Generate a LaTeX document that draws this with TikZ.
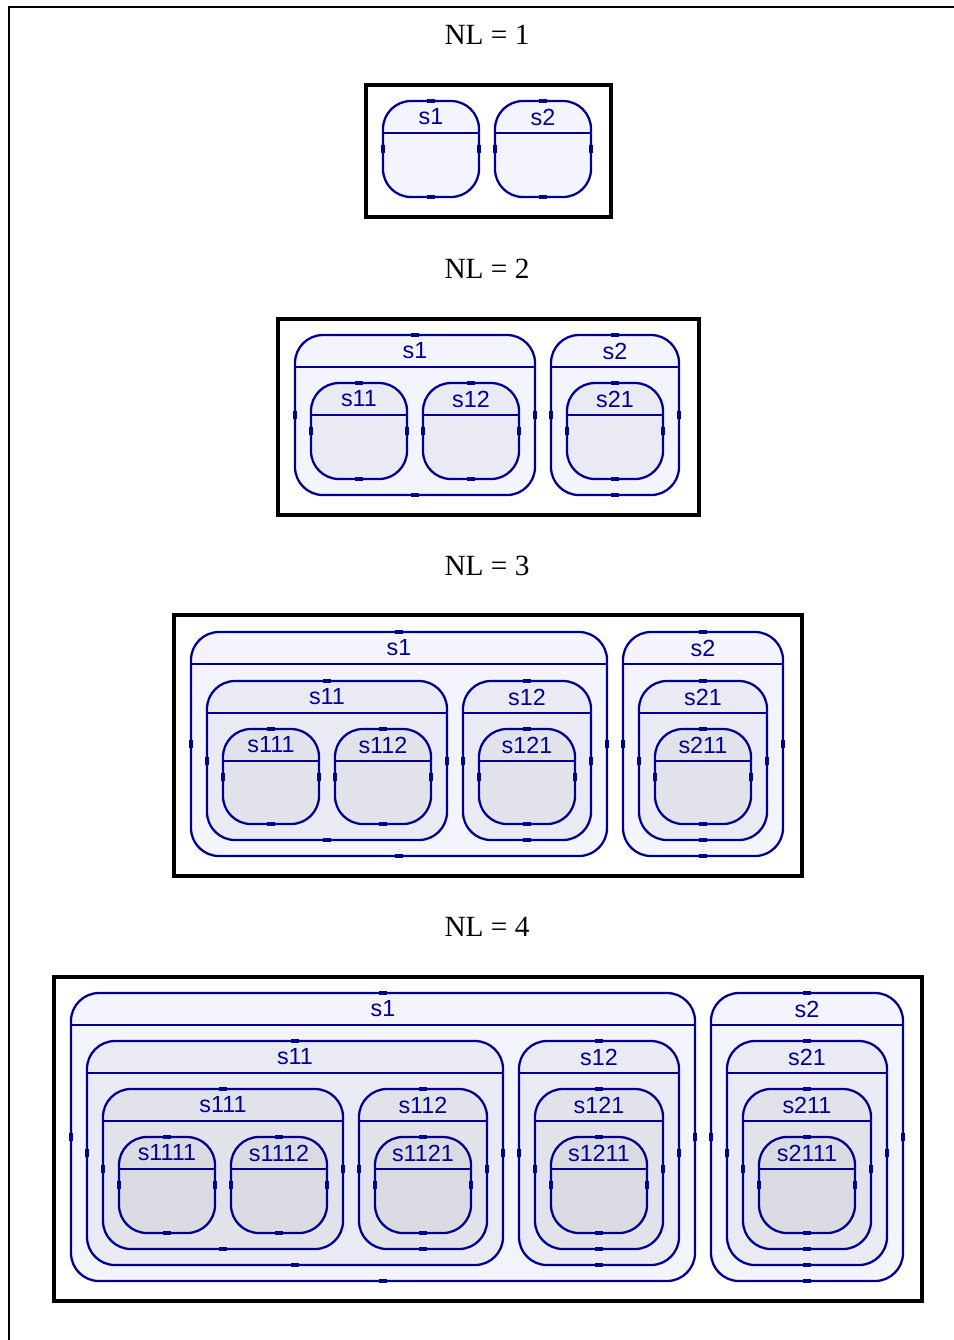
\documentclass[tikz,border=0pt]{standalone}
\usepackage{fontspec}
\setmainfont{Liberation Serif}
\newfontfamily\lsans{Liberation Sans}
\definecolor{nav}{HTML}{000090}
\definecolor{lvA}{HTML}{F4F4FE}
\definecolor{lvB}{HTML}{EAEAF4}
\definecolor{lvC}{HTML}{E2E2EB}
\definecolor{lvD}{HTML}{DADAE3}
\tikzset{
  stbox/.style={draw=nav, line width=1.7pt, rounded corners=21pt, inner sep=0pt, outer sep=0pt, rectangle},
  stline/.style={draw=nav, line width=1.6pt},
  stlabel/.style={text=nav, font=\lsans\fontsize{17.5}{19}\selectfont, inner sep=0pt},
  sttick/.style={draw=nav, line width=2.6pt},
  framebox/.style={draw=black, line width=3.4pt, inner sep=0pt, outer sep=0pt, rectangle},
  title/.style={font=\fontsize{22}{24}\selectfont, inner sep=0pt},
  border/.style={draw=black, line width=1.6pt}
}
\newcommand\stbox[7]{%
  \node[stbox, fill=#6, minimum width={(#4-#2)*0.75pt}, minimum height={(#5-#3)*0.75pt}] (#1) at ({(#2+#4)/2},{(#3+#5)/2}) {};
  \draw[stline] ([yshift=-24pt]#1.north west) -- ([yshift=-24pt]#1.north east);
  \node[stlabel] (#1l) at ([yshift=-12pt]#1.north) {#7};
  \draw[sttick] ([xshift=-3pt]#1.north) -- ([xshift=3pt]#1.north);
  \draw[sttick] ([xshift=-3pt]#1.south) -- ([xshift=3pt]#1.south);
  \draw[sttick] ([yshift=-3pt]#1.west) -- ([yshift=3pt]#1.west);
  \draw[sttick] ([yshift=-3pt]#1.east) -- ([yshift=3pt]#1.east);
}
\newcommand\frbox[5]{%
  \node[framebox, minimum width={(#4-#2)*0.75pt}, minimum height={(#5-#3)*0.75pt}] (#1) at ({(#2+#4)/2},{(#3+#5)/2}) {};
}
\begin{document}
\begin{tikzpicture}[x=0.75pt, y=-0.75pt]
\useasboundingbox (0,0) rectangle (954,1340);
% outer border
\coordinate (bl) at (9,1340);
\coordinate (tl) at (9,7);
\coordinate (tr) at (954,7);
\draw[border] (bl) -- (tl) -- (tr);

% ---------- NL = 1
\node[title] (t1) at (487,35) {NL = 1};
\frbox{f1}{366}{85}{611}{217}
\stbox{aA}{383}{101}{479}{197}{lvA}{s1}
\stbox{aB}{495}{101}{591}{197}{lvA}{s2}

% ---------- NL = 2
\node[title] (t2) at (487,269) {NL = 2};
\frbox{f2}{278}{319}{699}{515}
\stbox{bA}{295}{335}{535}{495}{lvA}{s1}
\stbox{bAA}{311}{383}{407}{479}{lvB}{s11}
\stbox{bAB}{423}{383}{519}{479}{lvB}{s12}
\stbox{bB}{551}{335}{679}{495}{lvA}{s2}
\stbox{bBA}{567}{383}{663}{479}{lvB}{s21}

% ---------- NL = 3
\node[title] (t3) at (487,566) {NL = 3};
\frbox{f3}{174}{615}{802}{876}
\stbox{cA}{191}{632}{607}{856}{lvA}{s1}
\stbox{cAA}{207}{681}{447}{840}{lvB}{s11}
\stbox{cAAA}{223}{729}{319}{824}{lvC}{s111}
\stbox{cAAB}{335}{729}{431}{824}{lvC}{s112}
\stbox{cAB}{463}{681}{591}{840}{lvB}{s12}
\stbox{cABA}{479}{729}{575}{824}{lvC}{s121}
\stbox{cB}{623}{632}{783}{856}{lvA}{s2}
\stbox{cBA}{639}{681}{767}{840}{lvB}{s21}
\stbox{cBAA}{655}{729}{751}{824}{lvC}{s211}

% ---------- NL = 4
\node[title] (t4) at (487,927) {NL = 4};
\frbox{f4}{54}{977}{922}{1301}
\stbox{dA}{71}{993}{695}{1281}{lvA}{s1}
\stbox{dAA}{87}{1041}{503}{1265}{lvB}{s11}
\stbox{dAAA}{103}{1089}{343}{1249}{lvC}{s111}
\stbox{dAAAA}{119}{1137}{215}{1233}{lvD}{s1111}
\stbox{dAAAB}{231}{1137}{327}{1233}{lvD}{s1112}
\stbox{dAAB}{359}{1089}{487}{1249}{lvC}{s112}
\stbox{dAABA}{375}{1137}{471}{1233}{lvD}{s1121}
\stbox{dAB}{519}{1041}{679}{1265}{lvB}{s12}
\stbox{dABA}{535}{1089}{663}{1249}{lvC}{s121}
\stbox{dABAA}{551}{1137}{647}{1233}{lvD}{s1211}
\stbox{dB}{711}{993}{903}{1281}{lvA}{s2}
\stbox{dBA}{727}{1041}{887}{1265}{lvB}{s21}
\stbox{dBAA}{743}{1089}{871}{1249}{lvC}{s211}
\stbox{dBAAA}{759}{1137}{855}{1233}{lvD}{s2111}
\end{tikzpicture}
\end{document}
